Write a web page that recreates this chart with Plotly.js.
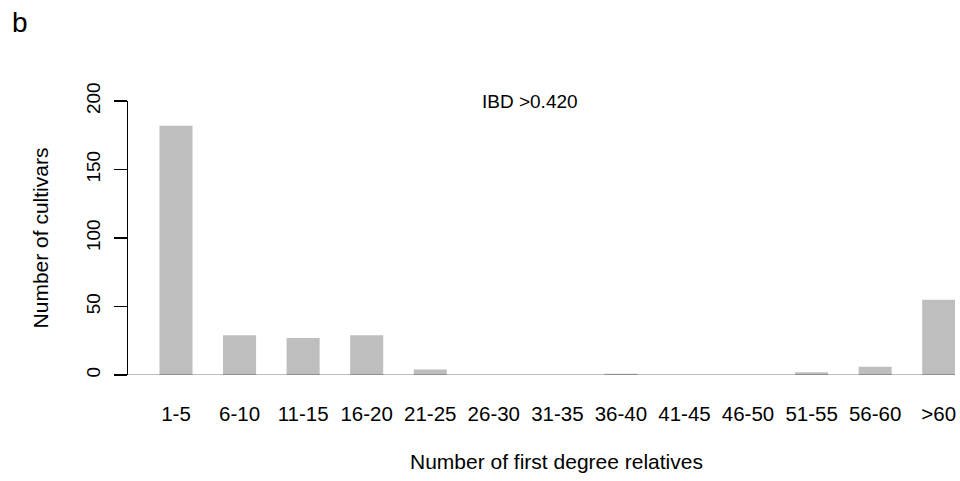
<!DOCTYPE html>
<html>
<head>
<meta charset="utf-8">
<script src="https://cdn.plot.ly/plotly-3.0.1.min.js"></script>
<style>
  html, body { margin: 0; padding: 0; background: #fff; }
  #chart { width: 960px; height: 481px; }
</style>
</head>
<body>
<div id="chart"></div>
<script>
// Number of cultivars by count of first degree relatives (IBD > 0.420)
const relativeBins = ["1-5", "6-10", "11-15", "16-20", "21-25", "26-30", "31-35",
                      "36-40", "41-45", "46-50", "51-55", "56-60", ">60"];
const cultivarCounts = [182, 29, 27, 29, 4, 0, 0, 1, 0, 0, 2, 6, 55];
const yTicks = [0, 50, 100, 150, 200];

const FONT = "Liberation Sans, Arial, sans-serif";

const binIndex = relativeBins.map((_, i) => i);

// plot region in pixels
const PLOT_L = 128, PLOT_W = 827, PLOT_T = 101, PLOT_H = 274;

const trace = {
  type: "bar",
  x: binIndex,
  y: cultivarCounts,
  width: 0.52,
  marker: { color: "#bebebe", line: { width: 0 } },
  hoverinfo: "x+y"
};

const layout = {
  width: 960,
  height: 481,
  margin: { l: PLOT_L, r: 960 - PLOT_L - PLOT_W, t: PLOT_T, b: 481 - PLOT_T - PLOT_H },
  paper_bgcolor: "#ffffff",
  plot_bgcolor: "#ffffff",
  showlegend: false,
  font: { family: FONT, color: "#000", size: 19 },
  xaxis: {
    range: [-0.755, 12.256],
    tickmode: "array",
    tickvals: binIndex,
    ticktext: relativeBins,
    ticks: "",
    showline: false,
    showgrid: false,
    zeroline: false,
    ticklabelstandoff: 24,
    tickfont: { family: FONT, size: 20.5, color: "#000" },
    fixedrange: true
  },
  yaxis: {
    range: [0, 200],
    tickmode: "array",
    tickvals: yTicks,
    ticktext: yTicks.map(String),
    ticks: "outside",
    ticklen: 13,
    tickwidth: 1.3,
    tickcolor: "#000",
    tickangle: -90,
    showline: true,
    linecolor: "#000",
    linewidth: 1.3,
    showgrid: false,
    zeroline: false,
    ticklabelstandoff: 6,
    tickfont: { family: FONT, size: 19, color: "#000" },
    title: {
      text: "Number of cultivars",
      font: { family: FONT, size: 21, color: "#000" },
      standoff: 28
    },
    fixedrange: true
  },
  shapes: [
    {
      // horizontal baseline under the bars
      type: "line",
      xref: "paper", yref: "y",
      x0: -13 / PLOT_W, x1: 1,
      y0: -0.4, y1: -0.4,
      line: { color: "#000", width: 1.8 }
    }
  ],
  annotations: [
    {
      text: "b",
      xref: "paper", yref: "paper",
      x: -118 / PLOT_W, y: 1 + 79 / PLOT_H,
      xanchor: "left", yanchor: "middle",
      showarrow: false,
      font: { family: FONT, size: 28, color: "#000" }
    },
    {
      text: "IBD >0.420",
      xref: "paper", yref: "paper",
      x: (530 - PLOT_L) / PLOT_W, y: 1,
      xanchor: "center", yanchor: "middle",
      showarrow: false,
      font: { family: FONT, size: 19, color: "#000" }
    },
    {
      // x-axis title
      text: "Number of first degree relatives",
      xref: "paper", yref: "paper",
      x: (556 - PLOT_L) / PLOT_W, y: -(462 - PLOT_T - PLOT_H) / PLOT_H,
      xanchor: "center", yanchor: "middle",
      showarrow: false,
      font: { family: FONT, size: 21, color: "#000" }
    }
  ]
};

Plotly.newPlot("chart", [trace], layout, { displayModeBar: false, staticPlot: true });
</script>
</body>
</html>
